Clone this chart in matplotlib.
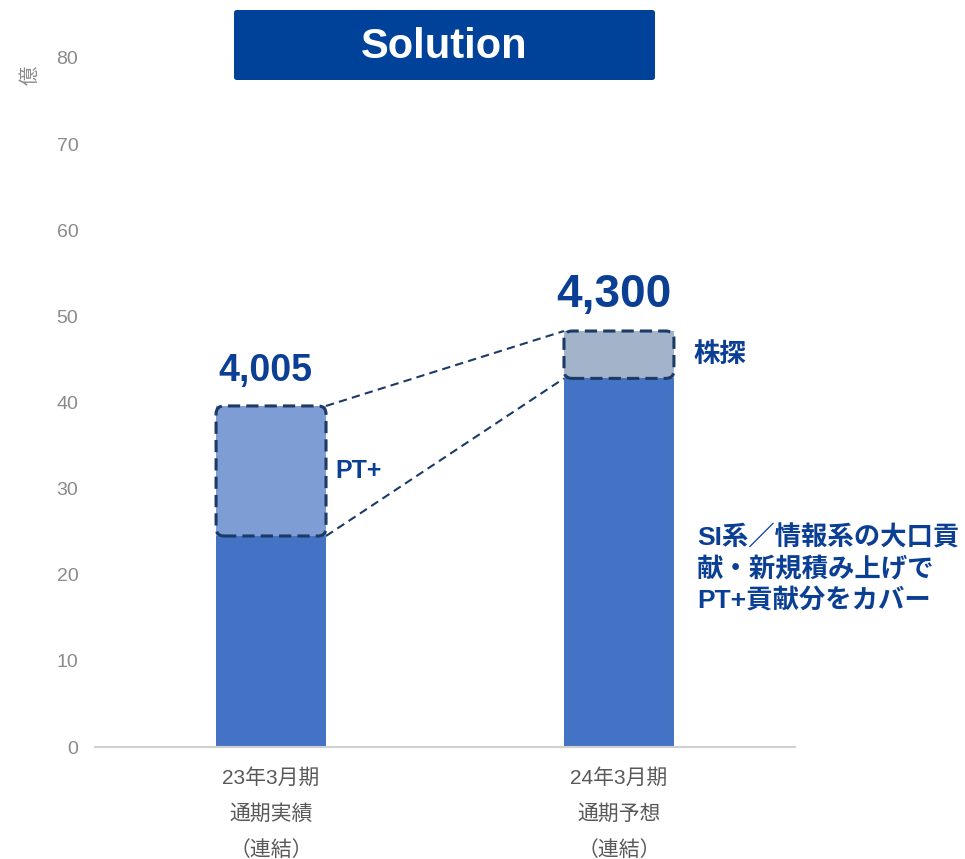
import matplotlib
matplotlib.use("Agg")
import matplotlib.pyplot as plt
from matplotlib.patches import FancyBboxPatch
import numpy as np

# ---- data ----
categories = ["23年3月期", "24年3月期"]
cat_line2 = ["通期実績", "通期予想"]
cat_line3 = ["（連結）", "（連結）"]
base_values = [24.5, 42.8]          # main (dark blue) segment
top_values = [15.1, 5.5]            # PT+ / 株探 segment
top_names = ["PT+", "株探"]
total_labels = ["4,005", "4,300"]
yticks = [0, 10, 20, 30, 40, 50, 60, 70, 80]
note_lines = ["SI系／情報系の大口貢", "献・新規積み上げで", "PT+貢献分をカバー"]
title = "Solution"
unit = "億"

W, H = 965, 859
fig = plt.figure(figsize=(W / 100, H / 100), dpi=100)
ax = fig.add_axes([95 / W, 1 - 747 / H, 700 / W, 689 / H])

FAM = ["Liberation Sans", "Noto Sans CJK JP"]
NAVY = "#0B3F94"
BOX = "#1B3A66"

x = np.arange(len(categories))
bw = 0.316
ax.bar(x, base_values, width=bw, color="#4472C4", zorder=2)
ax.bar(x, top_values, width=bw, bottom=base_values,
       color=["#7F9DD5", "#A2B3CA"], zorder=2)

ax.set_xlim(-0.506, 1.506)
ax.set_ylim(0, 80)
ax.set_yticks(yticks)
ax.set_yticklabels([str(v) for v in yticks], fontsize=14, color="#8A8A8A",
                   family=FAM)
ax.tick_params(axis="y", length=0, pad=12)
ax.set_xticks([])
for s in ["left", "right", "top"]:
    ax.spines[s].set_visible(False)
ax.spines["bottom"].set_color("#D0D0D0")
ax.spines["bottom"].set_linewidth(1.5)

# x category labels (three lines)
for i in range(len(categories)):
    for txt, off in zip([categories[i], cat_line2[i], cat_line3[i]],
                        [-22.0, -48.5, -74.5]):
        ax.annotate(txt, xy=(x[i], 0), xycoords=("data", "axes fraction"),
                    xytext=(0, off), textcoords="offset points",
                    ha="center", va="center", fontsize=15, color="#595959",
                    family=FAM)

# dashed rounded boxes around top segments (in pixel space)
fig.canvas.draw()
tr = ax.transData
for i in range(len(categories)):
    (x0, y0) = tr.transform((x[i] - bw / 2, base_values[i]))
    (x1, y1) = tr.transform((x[i] + bw / 2, base_values[i] + top_values[i]))
    p = FancyBboxPatch((x0, y0), x1 - x0, y1 - y0,
                       boxstyle="round,pad=0,rounding_size=8",
                       transform=None, fill=False, edgecolor=BOX,
                       linewidth=2.2, linestyle=(0, (4, 2)), zorder=4)
    fig.add_artist(p)

# connecting dashed lines
for yy in [(base_values[0] + top_values[0], base_values[1] + top_values[1]),
           (base_values[0], base_values[1])]:
    ax.plot([x[0] + bw / 2, x[1] - bw / 2], yy, color=BOX, lw=1.5,
            linestyle=(0, (4, 2.5)), zorder=3)

# totals
tot_sizes = [27, 33]
tot_off = [12, 10]
for i in range(len(categories)):
    ax.annotate(total_labels[i], xy=(x[i], base_values[i] + top_values[i]),
                xytext=(-4, tot_off[i]), textcoords="offset points",
                ha="center", va="bottom", fontsize=tot_sizes[i],
                fontweight="bold", color=NAVY, family=FAM)

# segment names
name_off = [7, 14]
name_size = [18, 19]
for i in range(len(categories)):
    ax.annotate(top_names[i], xy=(x[i] + bw / 2, base_values[i] + top_values[i] / 2),
                xytext=(name_off[i], 0), textcoords="offset points",
                ha="left", va="center", fontsize=name_size[i], fontweight="bold",
                color=NAVY, family=FAM)

# note text
for k, line in enumerate(note_lines):
    fig.text(697 / W, 1 - (538 + 31 * k) / H, line, ha="left", va="center",
             fontsize=19, fontweight="bold", color=NAVY, family=FAM)

# unit label
fig.text(30 / W, 1 - 75 / H, unit, rotation=90, ha="center", va="center",
         fontsize=14, color="#8A8A8A", family=FAM)

# title banner
fig.add_artist(FancyBboxPatch((234 / W, 1 - 80 / H), 421 / W, 70 / H,
                              boxstyle="round,pad=0,rounding_size=0.003",
                              transform=fig.transFigure, facecolor="#00419A",
                              edgecolor="none"))
fig.text(444 / W, 1 - 47 / H, title, ha="center", va="center", fontsize=30,
         fontweight="bold", color="white", family=FAM)

fig.savefig("out.png", dpi=100)
